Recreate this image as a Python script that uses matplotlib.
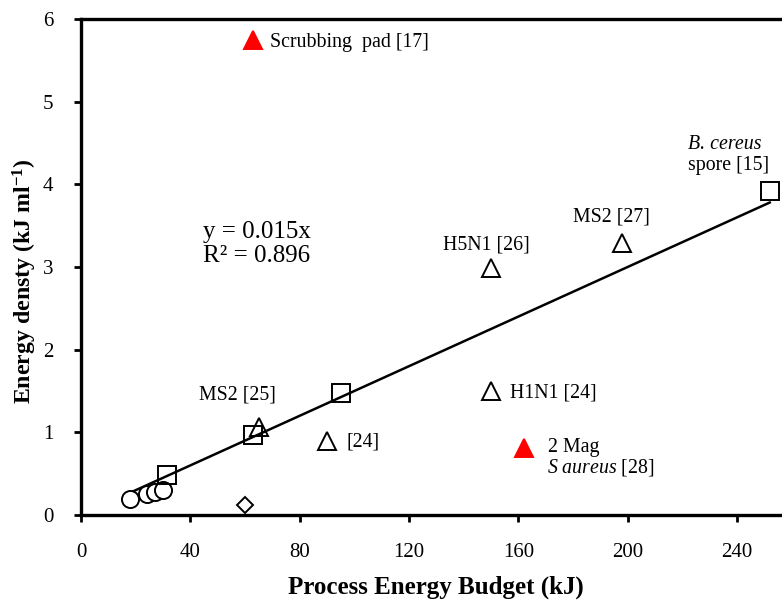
import matplotlib
matplotlib.use("Agg")
import matplotlib.pyplot as plt
import numpy as np

plt.rcParams['font.family'] = ['Liberation Serif', 'DejaVu Serif']
plt.rcParams['mathtext.fontset'] = 'custom'
plt.rcParams['mathtext.rm'] = 'Liberation Serif'
plt.rcParams['mathtext.bf'] = 'Liberation Serif:bold'
plt.rcParams['mathtext.it'] = 'Liberation Serif:italic'

# Data
circle_x = [18, 24, 27, 30]
circle_y = [0.19, 0.26, 0.28, 0.30]
square_x = [31.5, 63, 95, 252]
square_y = [0.48, 0.97, 1.47, 3.92]
tri_x = [65, 90, 150, 150, 198]
tri_y = [1.07, 0.90, 1.50, 2.99, 3.29]
diamond_x = [60]
diamond_y = [0.12]
red_x = [63, 162]
red_y = [5.74, 0.81]
fit_slope = 0.015
fit_range = [19, 252]

xticks = [0, 40, 80, 120, 160, 200, 240]
yticks = [0, 1, 2, 3, 4, 5, 6]

fig = plt.figure(figsize=(7.82, 6.01), dpi=100)
ax = fig.add_axes([0.1036, 0.1431, 0.9087, 0.8253])

mew = 1.4
ax.plot(fit_range, [fit_slope * v for v in fit_range], color='black', lw=1.8, zorder=2)
ax.plot(circle_x, circle_y, 'o', ms=12.3, mfc='white', mec='black', mew=mew, zorder=3)
ax.plot(square_x, square_y, 's', ms=12.8, mfc='none', mec='black', mew=mew, zorder=3)
ax.plot(tri_x, tri_y, '^', ms=13.5, mfc='none', mec='black', mew=mew, zorder=3)
ax.plot(diamond_x, diamond_y, 'D', ms=8.5, mfc='white', mec='black', mew=mew, zorder=3)
ax.plot(red_x, red_y, '^', ms=12.5, mfc='red', mec='red', mew=mew, zorder=3)

fs = 14.3
ax.text(69, 5.71, 'Scrubbing  pad [17]', fontsize=fs, va='center', ha='left')
ax.text(222, 4.48, 'B. cereus', fontsize=fs, va='center', ha='left', style='italic')
ax.text(222, 4.23, 'spore [15]', fontsize=fs, va='center', ha='left')
ax.text(180, 3.60, 'MS2 [27]', fontsize=fs, va='center', ha='left')
ax.text(132.5, 3.27, 'H5N1 [26]', fontsize=fs, va='center', ha='left')
ax.text(44.5, 3.42, 'y = 0.015x', fontsize=18, va='center', ha='left')
ax.text(44.5, 3.13, 'R² = 0.896', fontsize=18, va='center', ha='left')
ax.text(43, 1.45, 'MS2 [25]', fontsize=fs, va='center', ha='left')
ax.text(97, 0.88, '[24]', fontsize=fs, va='center', ha='left')
ax.text(157, 1.47, 'H1N1 [24]', fontsize=fs, va='center', ha='left')
ax.text(171, 0.82, '2 Mag', fontsize=fs, va='center', ha='left')
ax.text(170.5, 0.58, r'$\it{S\ aureus}$ [28]', fontsize=fs, va='center', ha='left')

ax.set_xlim(0, 260)
ax.set_ylim(0, 6)
ax.set_xticks(xticks)
ax.set_yticks(yticks)
ax.tick_params(axis='both', direction='out', length=5, width=2, labelsize=15, pad=15)

for s in ['left', 'bottom', 'top', 'right']:
    ax.spines[s].set_linewidth(2.4)

ax.set_xlabel('Process Energy Budget (kJ)', fontsize=18, fontweight='bold', labelpad=10)
ax.set_ylabel(r'Energy densty (kJ ml$^{\mathbf{-1}}$)', fontsize=17.2, fontweight='bold')
ax.yaxis.set_label_coords(-0.059, 0.472)

fig.savefig('out.png', dpi=100)
